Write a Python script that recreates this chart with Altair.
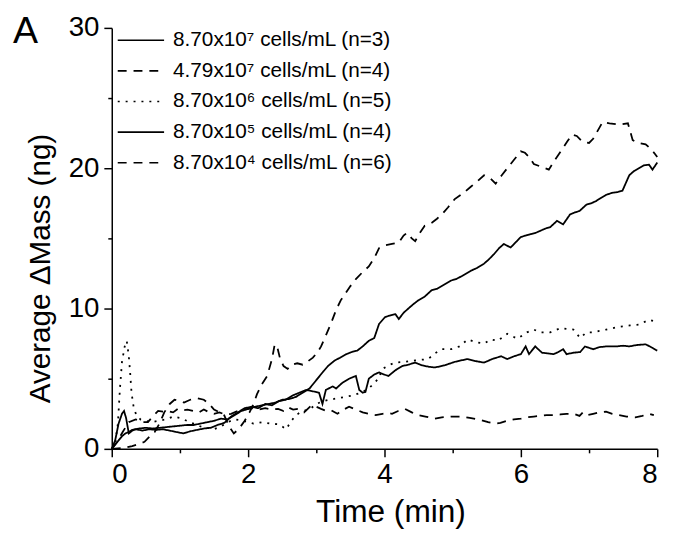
import altair as alt
import pandas as pd

FONT = "Liberation Sans"

labels = [
    "8.70x10⁷ cells/mL (n=3)",
    "4.79x10⁷ cells/mL (n=4)",
    "8.70x10⁶ cells/mL (n=5)",
    "8.70x10⁵ cells/mL (n=4)",
    "8.70x10⁴ cells/mL (n=6)",
]
dashes = [[1, 0], [9, 7], [2, 6], [1, 0], [9, 7]]
panel_letter = ["A"]

# 8.70x10^7 (solid, upper)
t1 = [0, 0.05, 0.1, 0.15, 0.2, 0.25, 0.3, 0.4, 0.5, 0.6, 0.7, 0.8, 0.9, 1.0, 1.1, 1.2, 1.3, 1.4, 1.5,
      1.6, 1.7, 1.8, 1.9, 2.0, 2.1, 2.2, 2.3, 2.4, 2.5, 2.6, 2.7, 2.8, 2.9, 3.0, 3.1, 3.17, 3.27, 3.35,
      3.44, 3.52, 3.6, 3.68, 3.77, 3.85, 3.92, 4.01, 4.08, 4.16, 4.21, 4.28, 4.35, 4.42, 4.5, 4.59, 4.69,
      4.77, 4.84, 4.91, 4.98, 5.05, 5.13, 5.2, 5.27, 5.36, 5.46, 5.53, 5.61, 5.68, 5.75, 5.85, 5.92, 6.0,
      6.07, 6.14, 6.22, 6.29, 6.36, 6.43, 6.53, 6.62, 6.72, 6.79, 6.86, 6.96, 7.03, 7.1, 7.18, 7.25, 7.34,
      7.42, 7.49, 7.59, 7.66, 7.73, 7.8, 7.88, 7.93, 8.0]
v1 = [0, 0.3, 0.6, 0.9, 1.1, 1.2, 1.35, 1.45, 1.5, 1.45, 1.5, 1.55, 1.6, 1.65, 1.7, 1.7, 1.8, 1.9, 2.0,
      2.15, 2.1, 2.4, 2.7, 2.85, 3.0, 3.1, 3.2, 3.3, 3.5, 3.55, 3.7, 4.0, 4.3, 4.9, 5.5, 5.9, 6.3, 6.5,
      6.75, 6.9, 7.0, 7.3, 7.7, 7.9, 8.9, 9.4, 9.5, 9.6, 9.25, 9.7, 10.0, 10.3, 10.6, 10.85, 11.3,
      11.4, 11.6, 11.8, 12.0, 12.1, 12.3, 12.5, 12.7, 12.9, 13.2, 13.5, 13.9, 14.3, 14.6, 14.35, 14.7, 15.1,
      15.2, 15.3, 15.4, 15.55, 15.7, 15.8, 16.25, 16.0, 16.7, 16.85, 16.95, 17.4, 17.5, 17.65, 17.9, 18.1, 18.25,
      18.3, 18.4, 19.5, 19.8, 20.0, 20.2, 20.25, 19.9, 20.4]

# 4.79x10^7 (dashed, upper)
t2 = [0, 0.15, 0.3, 0.4, 0.48, 0.56, 0.63, 0.7, 0.77, 0.85, 0.92, 1.0, 1.06, 1.15, 1.26, 1.35, 1.43, 1.5,
      1.58, 1.64, 1.72, 1.79, 1.86, 1.95, 2.02, 2.08, 2.13, 2.2, 2.28, 2.35, 2.39, 2.43, 2.47, 2.52, 2.58,
      2.64, 2.72, 2.8, 2.88, 2.95, 3.02, 3.07, 3.15, 3.22, 3.29, 3.36, 3.43, 3.5, 3.58, 3.68, 3.77, 3.85,
      3.92, 4.01, 4.11, 4.21, 4.28, 4.33, 4.4, 4.45, 4.52, 4.59, 4.69, 4.77, 4.84, 4.93, 5.03, 5.15, 5.27,
      5.37, 5.46, 5.55, 5.63, 5.72, 5.8, 5.9, 6.0, 6.06, 6.12, 6.19, 6.3, 6.41, 6.5, 6.6, 6.68, 6.75, 6.82,
      6.9, 7.0, 7.06, 7.13, 7.2, 7.3, 7.44, 7.57, 7.64, 7.72, 7.83, 7.9, 7.97, 8.0]
v2 = [0, 0.05, 0.2, 0.35, 0.5, 0.9, 1.2, 1.8, 2.6, 3.2, 3.5, 3.4, 3.3, 3.5, 3.6, 3.5, 3.2, 2.8,
      2.6, 2.5, 1.6, 1.1, 1.4, 2.0, 2.6, 3.2, 3.9, 4.6, 5.2, 6.4, 7.45, 7.2, 6.4, 5.9, 5.7,
      6.0, 6.1, 6.0, 6.25, 6.5, 6.9, 7.3, 8.2, 9.0, 9.9, 10.6, 11.1, 11.6, 12.1, 12.6, 13.0, 13.6,
      14.3, 14.5, 14.6, 14.7, 15.2, 15.4, 15.0, 14.8, 15.4, 15.9, 16.1, 16.4, 16.7, 17.2, 17.8, 18.2, 18.7,
      19.1, 19.5, 19.3, 18.9, 19.5, 20.0, 20.6, 21.2, 21.1, 20.8, 20.3, 20.1, 19.9, 20.6, 21.3, 21.9, 22.4, 22.3,
      21.9, 21.8, 22.1, 22.7, 23.3, 23.2, 23.1, 23.2, 22.0, 21.8, 21.7, 21.4, 21.0, 20.8]

# 8.70x10^6 (dotted)
t3 = [0, 0.05, 0.09, 0.12, 0.15, 0.19, 0.22, 0.25, 0.27, 0.29, 0.32, 0.36, 0.42, 0.5, 0.58, 0.68, 0.8,
      0.9, 1.0, 1.1, 1.2, 1.3, 1.4, 1.5, 1.6, 1.7, 1.8, 1.93, 2.08, 2.2, 2.33, 2.45, 2.56, 2.62, 2.7, 2.8,
      2.9, 3.0, 3.1, 3.19, 3.3, 3.42, 3.53, 3.65, 3.77, 3.85, 3.91, 3.97, 4.08, 4.16, 4.3, 4.45, 4.64, 4.74,
      4.84, 4.98, 5.1, 5.22, 5.34, 5.46, 5.56, 5.66, 5.8, 5.95, 6.09, 6.19, 6.29, 6.43, 6.58, 6.67, 6.77,
      6.87, 6.96, 7.06, 7.15, 7.25, 7.44, 7.6, 7.73, 7.88, 7.95, 8.0]
v3 = [0, 0.4, 1.8, 4.3, 6.2, 7.3, 7.7, 6.6, 5.4, 4.0, 3.0, 2.4, 2.1, 2.0, 1.9, 2.0, 2.1,
      2.3, 2.2, 2.0, 1.8, 1.6, 1.5, 1.4, 1.6, 1.9, 2.1, 2.0, 1.8, 1.9, 1.8, 1.75, 1.4, 1.9, 2.4, 2.7,
      2.8, 3.2, 3.4, 3.5, 3.6, 3.7, 3.8, 4.0, 4.3, 4.7, 5.0, 5.7, 6.0, 6.15, 6.2, 6.3, 6.4, 6.8,
      7.1, 7.1, 7.3, 7.8, 7.6, 7.5, 7.8, 7.7, 8.2, 7.85, 8.3, 8.5, 8.3, 8.3, 8.6, 8.55, 8.5,
      7.9, 8.3, 8.3, 8.4, 8.5, 8.7, 8.8, 8.85, 9.2, 9.1, 9.05]

# 8.70x10^5 (solid, lower)
t4 = [0, 0.05, 0.1, 0.15, 0.18, 0.21, 0.25, 0.3, 0.35, 0.45, 0.55, 0.65, 0.75, 0.85, 0.95, 1.05, 1.15,
      1.25, 1.35, 1.45, 1.55, 1.65, 1.75, 1.85, 1.95, 2.05, 2.15, 2.25, 2.35, 2.45, 2.55, 2.65, 2.75, 2.85,
      2.95, 3.04, 3.09, 3.14, 3.24, 3.29, 3.38, 3.48, 3.58, 3.63, 3.68, 3.72, 3.77, 3.85, 3.92, 3.99, 4.06,
      4.16, 4.26, 4.35, 4.45, 4.55, 4.65, 4.74, 4.88, 5.03, 5.12, 5.22, 5.34, 5.46, 5.58, 5.71, 5.8, 5.9,
      6.0, 6.07, 6.12, 6.21, 6.31, 6.4, 6.48, 6.55, 6.62, 6.67, 6.77, 6.87, 6.94, 7.06, 7.15, 7.25, 7.4,
      7.5, 7.59, 7.7, 7.83, 7.93, 8.0]
v4 = [0, 0.6, 1.8, 2.5, 2.7, 2.2, 1.1, 1.3, 1.4, 1.3, 1.4, 1.35, 1.4, 1.3, 1.2, 1.1, 1.25,
      1.35, 1.45, 1.5, 1.7, 1.85, 2.3, 2.6, 2.9, 3.0, 2.9, 3.2, 3.1, 3.4, 3.5, 3.8, 4.0, 4.2,
      4.1, 4.0, 3.2, 4.2, 4.45, 4.3, 4.7, 5.0, 5.2, 4.2, 4.0, 4.05, 5.0, 5.3, 5.45, 5.3, 5.2,
      5.6, 5.9, 6.0, 6.15, 5.95, 5.85, 5.8, 5.95, 6.2, 6.3, 6.4, 6.25, 6.15, 6.4, 6.6, 6.4, 6.6,
      6.75, 7.3, 6.75, 7.3, 6.85, 6.8, 6.75, 6.9, 7.1, 6.75, 6.85, 6.9, 7.3, 7.1, 7.25, 7.3, 7.3,
      7.35, 7.3, 7.4, 7.45, 7.2, 7.0]

# 8.70x10^4 (dashed, lower)
t5 = [0, 0.08, 0.16, 0.25, 0.35, 0.45, 0.53, 0.6, 0.68, 0.75, 0.82, 0.9, 0.97, 1.04, 1.11, 1.2, 1.28,
      1.35, 1.43, 1.5, 1.58, 1.66, 1.75, 1.85, 1.95, 2.05, 2.15, 2.25, 2.35, 2.44, 2.52, 2.59, 2.66, 2.73,
      2.82, 2.93, 3.0, 3.07, 3.15, 3.22, 3.31, 3.4, 3.48, 3.58, 3.68, 3.77, 3.87, 3.97, 4.05, 4.11, 4.2,
      4.3, 4.4, 4.5, 4.6, 4.74, 4.84, 4.98, 5.13, 5.25, 5.42, 5.52, 5.61, 5.7, 5.8, 5.9, 6.0, 6.1, 6.19,
      6.28, 6.38, 6.48, 6.58, 6.67, 6.77, 6.86, 6.91, 6.96, 7.06, 7.15, 7.25, 7.34, 7.44, 7.55, 7.68, 7.78,
      7.88, 7.95]
v5 = [0, 0.5, 1.2, 1.9, 2.1, 1.9, 1.9, 2.3, 2.7, 2.65, 2.7, 2.6, 2.85, 2.75, 2.8, 2.7, 2.6,
      2.8, 2.6, 2.5, 2.6, 2.45, 2.5, 2.7, 2.8, 2.9, 2.8, 2.9, 2.8, 2.85, 2.7, 2.95, 2.8, 2.85,
      2.6, 3.1, 3.0, 2.85, 2.7, 2.75, 2.5, 2.8, 3.0, 2.8, 2.6, 2.5, 2.4, 2.5, 2.55, 2.5, 2.7,
      2.85, 2.6, 2.4, 2.3, 2.15, 2.25, 2.3, 2.3, 2.2, 2.05, 1.9, 1.8, 1.85, 2.0, 2.1, 2.15, 2.25, 2.3,
      2.35, 2.4, 2.4, 2.45, 2.5, 2.5, 2.35, 2.6, 2.4, 2.5, 2.6, 2.65, 2.5, 2.4, 2.3, 2.25, 2.35,
      2.5, 2.4]

series = [(t1, v1), (t2, v2), (t3, v3), (t4, v4), (t5, v5)]
rows = []
for lab, (ts, vs) in zip(labels, series):
    for i, (t, v) in enumerate(zip(ts, vs)):
        rows.append({"series": lab, "t": t, "v": v, "i": i})
df = pd.DataFrame(rows)

x_ticks = list(range(0, 9))
y_ticks = list(range(0, 31, 5))

axis_common = dict(
    domainColor="black", domainWidth=1.5, tickColor="black", tickWidth=1.5,
    labelFont=FONT, labelFontSize=28, labelColor="black",
    titleFont=FONT, titleFontWeight="normal", titleColor="black",
    grid=False,
)

lines = alt.Chart(df).mark_line(color="black", strokeWidth=1.8).encode(
    x=alt.X("t:Q", scale=alt.Scale(domain=[0, 8], nice=False, zero=False),
            axis=alt.Axis(values=x_ticks, title="Time (min)",
                          labelExpr="datum.value % 2 === 0 ? datum.label : ''",
                          tickSize={"condition": {"test": "datum.value % 2 === 0", "value": 8}, "value": 4},
                          labelPadding=4, titleFontSize=32, titleX=282, titleY=74,
                          titleBaseline="alphabetic", titleAlign="center", **axis_common)),
    y=alt.Y("v:Q", scale=alt.Scale(domain=[0, 30], nice=False),
            axis=alt.Axis(values=y_ticks, title="Average ΔMass (ng)",
                          labelExpr="datum.value % 10 === 0 ? datum.label : ''",
                          tickSize={"condition": {"test": "datum.value % 10 === 0", "value": 8}, "value": 4},
                          labelPadding=5, titleFontSize=30, titleX=-72, titleY=243,
                          titleBaseline="middle", titleAlign="center", **axis_common)),
    strokeDash=alt.StrokeDash("series:N",
                              scale=alt.Scale(domain=labels, range=dashes),
                              legend=alt.Legend(title=None, orient="none", legendX=5, legendY=-3,
                                                symbolType="stroke", symbolSize=2200,
                                                symbolStrokeWidth=1.6, symbolStrokeColor="black",
                                                labelFont=FONT, labelFontSize=21, labelColor="black",
                                                labelOffset=8, clipHeight=31, rowPadding=0, padding=0,
                                                labelLimit=400)),
    order=alt.Order("i:Q"),
)

letter = alt.Chart(pd.DataFrame({"lbl": panel_letter})).mark_text(
    font=FONT, fontSize=38, color="black", align="left", baseline="alphabetic"
).encode(text="lbl:N", x=alt.value(-100), y=alt.value(15))

chart = alt.layer(lines, letter).properties(
    width=552, height=426,
    padding={"left": 105, "top": 17, "right": 20, "bottom": 81},
    autosize=alt.AutoSizeParams(type="none"),
).configure_view(stroke=None)

chart.save("out.html", embed_options={"renderer": "svg", "actions": False})
